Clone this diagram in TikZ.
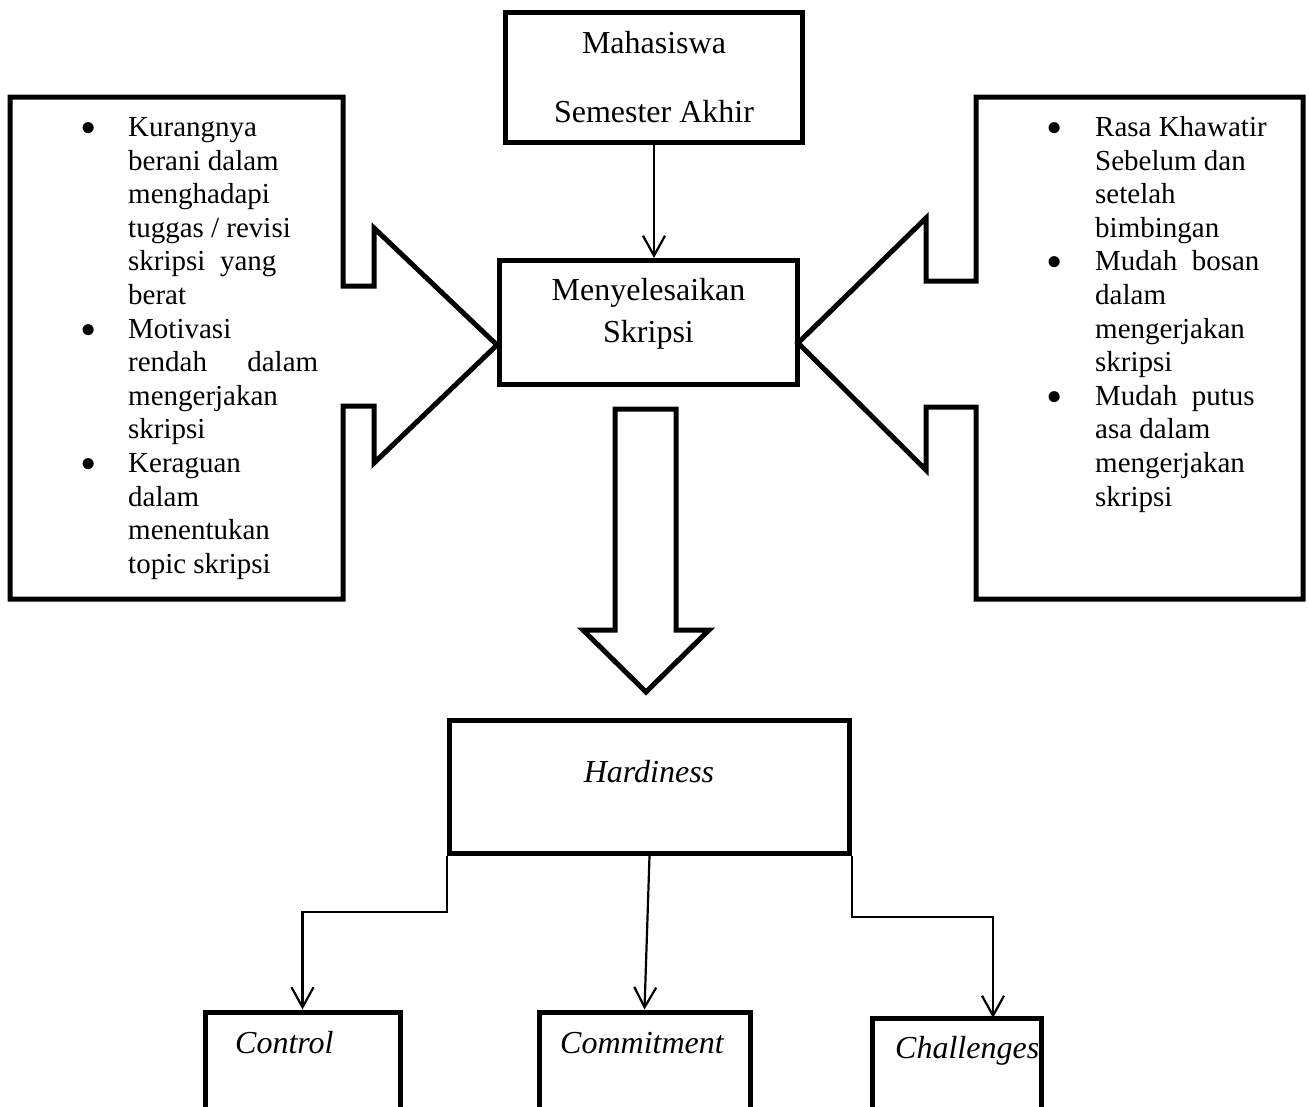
\documentclass[tikz,border=0pt]{standalone}
\usepackage{fontspec}
\setmainfont{Liberation Serif}
\usepackage{array}
\usepackage{graphicx}
\usetikzlibrary{arrows.meta}

\newcommand{\titik}{\raisebox{-7pt}{\scalebox{1.6}{\textbullet}}}

\begin{document}
\begin{tikzpicture}[x=1pt, y=-1pt,
  kotak/.style={draw, line width=5pt, inner sep=0pt},
  teks/.style={font=\fontsize{32}{38}\selectfont, inner sep=0pt, anchor=base},
  daftar/.style={font=\fontsize{29}{33.6}\selectfont, inner sep=0pt, anchor=base west},
  panah/.style={line width=2.2pt, -{Straight Barb[length=20pt, width=22pt]}}]
\useasboundingbox (0,0) rectangle (1309,1106);

% kotak utama
\node[kotak, minimum width=297pt, minimum height=130pt] (mhs) at (654,77.5) {};
\node[teks] (mhs-a) at (654,53) {Mahasiswa};
\node[teks] (mhs-b) at (654,122) {Semester Akhir};
\node[kotak, minimum width=298pt, minimum height=124pt] (msk) at (648.5,322.5) {};
\node[teks] (msk-a) at (648.5,300) {Menyelesaikan};
\node[teks] (msk-b) at (648.5,342) {Skripsi};
\draw[panah] (mhs.south) -- (mhs.south |- msk.north);

% faktor kiri
\draw[line width=5pt] (10,97) -- (343,97) -- (343,286) -- (374,286) -- (374,228) -- (497,345)
  -- (374,463) -- (374,406) -- (343,406) -- (343,599) -- (10,599) -- cycle;
\node[daftar] (kiri) at (80,136.5) {%
\begin{tabular}[t]{@{}p{48pt}@{}p{190pt}@{}}
\titik & Kurangnya\newline berani dalam\newline menghadapi\newline tuggas / revisi\newline skripsi\ \ yang\newline berat\\
\titik & Motivasi\newline rendah\hfill dalam\newline mengerjakan\newline skripsi\\
\titik & Keraguan\newline dalam\newline menentukan\newline topic skripsi
\end{tabular}};

% faktor kanan
\draw[line width=5pt] (976,97) -- (1303,97) -- (1303,599) -- (976,599) -- (976,407) -- (926,407)
  -- (926,470) -- (798,343) -- (926,218) -- (926,281) -- (976,281) -- cycle;
\node[daftar] (kanan) at (1046,136.5) {%
\begin{tabular}[t]{@{}p{49pt}@{}p{175pt}@{}}
\titik & Rasa Khawatir\newline Sebelum dan\newline setelah\newline bimbingan\\
\titik & Mudah\ \ bosan\newline dalam\newline mengerjakan\newline skripsi\\
\titik & Mudah\ \ putus\newline asa dalam\newline mengerjakan\newline skripsi
\end{tabular}};

% panah besar
\draw[line width=5pt] (615,409) -- (676,409) -- (676,630) -- (709,630) -- (646,692) -- (583,630)
  -- (615,630) -- cycle;

% hardiness
\node[kotak, minimum width=400pt, minimum height=133pt] (hrd) at (649.5,787) {};
\node[teks] (hrd-a) at (649,782) {\itshape Hardiness};

\node[kotak, minimum width=195pt, minimum height=128pt] (ctl) at (302.5,1076) {};
\node[teks, anchor=base west] (ctl-a) at (235,1053) {\itshape Control};
\node[kotak, minimum width=211pt, minimum height=128pt] (cmt) at (644.5,1076) {};
\node[teks, anchor=base west] (cmt-a) at (560,1053) {\itshape Commitment};
\node[kotak, minimum width=169pt, minimum height=128pt] (chl) at (956.5,1082) {};
\node[teks, anchor=base west] (chl-a) at (895,1058) {\itshape Challenges};
\coordinate (chl-in) at (993,1018);

\draw[panah] (hrd.south west) -- ++(0,56) -| (ctl.north);
\draw[panah] (hrd.south) -- (cmt.north);
\draw[panah] (hrd.south east) -- ++(0,61) -| (chl-in);
\end{tikzpicture}
\end{document}
